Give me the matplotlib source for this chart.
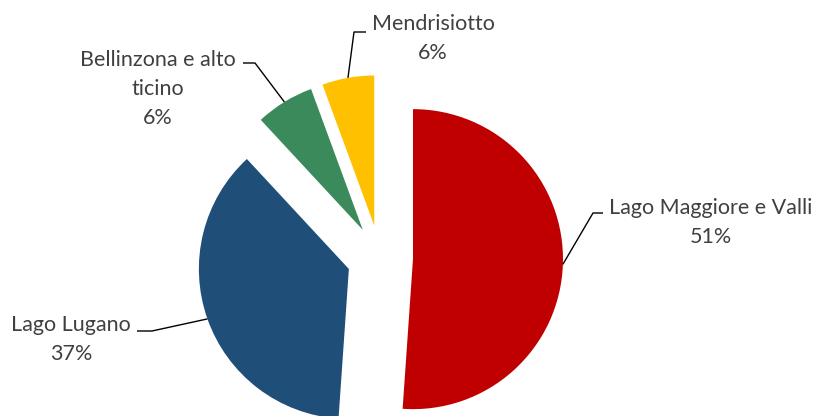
import matplotlib

matplotlib.use("Agg")

import matplotlib.pyplot as plt
import numpy as np

# dati del grafico (quote per regione)
regioni = ["Lago Maggiore e Valli", "Lago Lugano", "Bellinzona e alto ticino", "Mendrisiotto"]
quote = [51.1, 37.0, 6.3, 5.6]
etichette = ["Lago Maggiore e Valli\n51%", "Lago Lugano\n37%", "Bellinzona e alto\nticino\n6%", "Mendrisiotto\n6%"]
colori = ["#C00000", "#1F4E79", "#3B8A5B", "#FFC000"]

W, H = 818, 416
TEXT = "#404040"

fig = plt.figure(figsize=(W / 100, H / 100), dpi=100)
ax = fig.add_axes([0, 0, 1, 1])

centro = (380, H - 258)
raggio = 150
# explode di matplotlib e' in unita' dati (pixel qui)
wedges, _ = ax.pie(
    quote,
    colors=colori,
    startangle=90,
    counterclock=False,
    radius=raggio,
    center=centro,
    explode=[33] * len(quote),
    wedgeprops=dict(linewidth=0),
)
ax.set_xlim(0, W)
ax.set_ylim(0, H)
ax.set_aspect("equal")
ax.axis("off")

# posizione delle etichette (coordinate immagine, y dall'alto)
# (x testo, y alto testo, gomito x, fine x, y linea)
layout = [
    (711, 198, 593, 603, 213),
    (71, 315, 152, 137, 331),
    (158, 50, 255, 243, 63),
    (433, 14, 354, 366, 32),
]

for w, testo, (tx, ty, ex, fx, ly) in zip(wedges, etichette, layout):
    mid = np.deg2rad((w.theta1 + w.theta2) / 2)
    cx, cy = w.center
    sx = cx + w.r * np.cos(mid)
    sy = cy + w.r * np.sin(mid)
    ax.plot([sx, ex, fx], [sy, H - ly, H - ly], color="black", linewidth=1.0, solid_capstyle="butt")
    ax.text(tx, H - ty, testo, ha="center", va="top", multialignment="center",
            fontsize=15.5, color=TEXT, family="Lato", linespacing=1.55)

fig.savefig("out.png", dpi=100)
